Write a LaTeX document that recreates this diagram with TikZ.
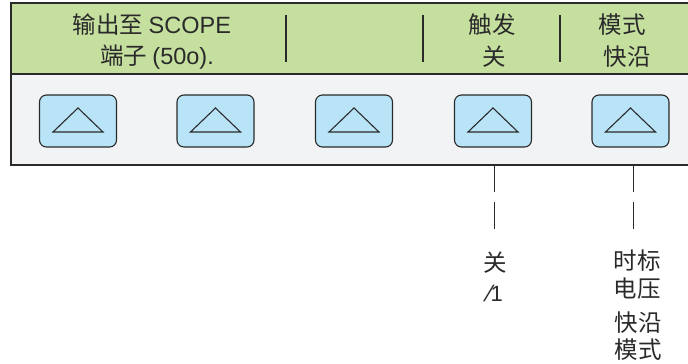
\documentclass[tikz,border=0pt]{standalone}
\usepackage{fontspec}
\usetikzlibrary{calc}
\setmainfont{Liberation Sans}
\newfontfamily\cjk{Noto Sans CJK SC}
\newfontfamily\lat{Liberation Sans}
\newfontfamily\symf{DejaVu Sans}
\definecolor{bandgreen}{HTML}{C5DF9F}
\definecolor{panelgray}{HTML}{F2F3F5}
\definecolor{keyblue}{HTML}{B9E4F8}
\definecolor{inkgray}{HTML}{2A2A2A}
\begin{document}
\begin{tikzpicture}[x=1pt,y=-1pt,
  keybox/.style={draw=inkgray,line width=1.1pt,fill=keyblue,rounded corners=7pt,minimum width=77pt,minimum height=52pt,inner sep=0pt},
  lbl/.style={font=\cjk\fontsize{23.5}{27}\selectfont,text=inkgray,inner sep=0pt},
  sep/.style={draw=inkgray,line width=2pt},
  lead/.style={draw=inkgray,line width=1pt}]
\useasboundingbox (0,0) rectangle (688,364);
\begin{scope}
\clip (0,0) rectangle (688,364);
\fill[panelgray] (11,74) rectangle (700,165);
\fill[bandgreen] (11,3) rectangle (700,74);
\draw[inkgray,line width=1.1pt] (11,74) -- (700,74);
\draw[inkgray,line width=1.6pt] (700,3) -- (11,3) -- (11,165) -- (700,165);
\end{scope}
% separators
\draw[sep] (286,15) -- (286,62);
\draw[sep] (423,15) -- (423,62);
\draw[sep] (560,15) -- (560,62);
% top labels
\node[lbl] (t1) at (152,25) {输出至 {\lat SCOPE}};
\node[lbl] (t2) at (157,57) {端子 {\lat (50o).}};
\node[lbl] (t3) at (492,25) {触发};
\node[lbl] (t4) at (494,57) {关};
\node[lbl] (t5) at (622,25) {模式};
\node[lbl] (t6) at (627,57) {快沿};
% keys
\foreach \i/\x in {1/78,2/215.5,3/354,4/493,5/630.5}{
  \node[keybox] (k\i) at (\x,121) {};
  \draw[inkgray,line width=1.1pt] ($(k\i.center)+(-25,11)$) -- ($(k\i.center)+(0,-13)$) -- ($(k\i.center)+(25,11)$) -- cycle;
}
% leaders
\coordinate (a1) at (494,165);
\coordinate (a2) at (494,192);
\coordinate (a3) at (494,202);
\coordinate (a4) at (494,229);
\draw[lead] (a1) -- (a2);
\draw[lead] (a3) -- (a4);
\coordinate (b1) at (633,165);
\coordinate (b2) at (633,192);
\coordinate (b3) at (633,202);
\coordinate (b4) at (633,229);
\draw[lead] (b1) -- (b2);
\draw[lead] (b3) -- (b4);
% bottom labels
\node[lbl] (u1) at (495,263) {关};
\node[lbl] (u2) at (495,293) {{\symf\fontsize{22}{24}\selectfont ⁄}{\lat\fontsize{22}{24}\selectfont 1}};
\node[lbl] (v1) at (637,261) {时标};
\node[lbl] (v2) at (637,289) {电压};
\node[lbl] (v3) at (638,323) {快沿};
\node[lbl] (v4) at (638,350) {模式};
\end{tikzpicture}
\end{document}
